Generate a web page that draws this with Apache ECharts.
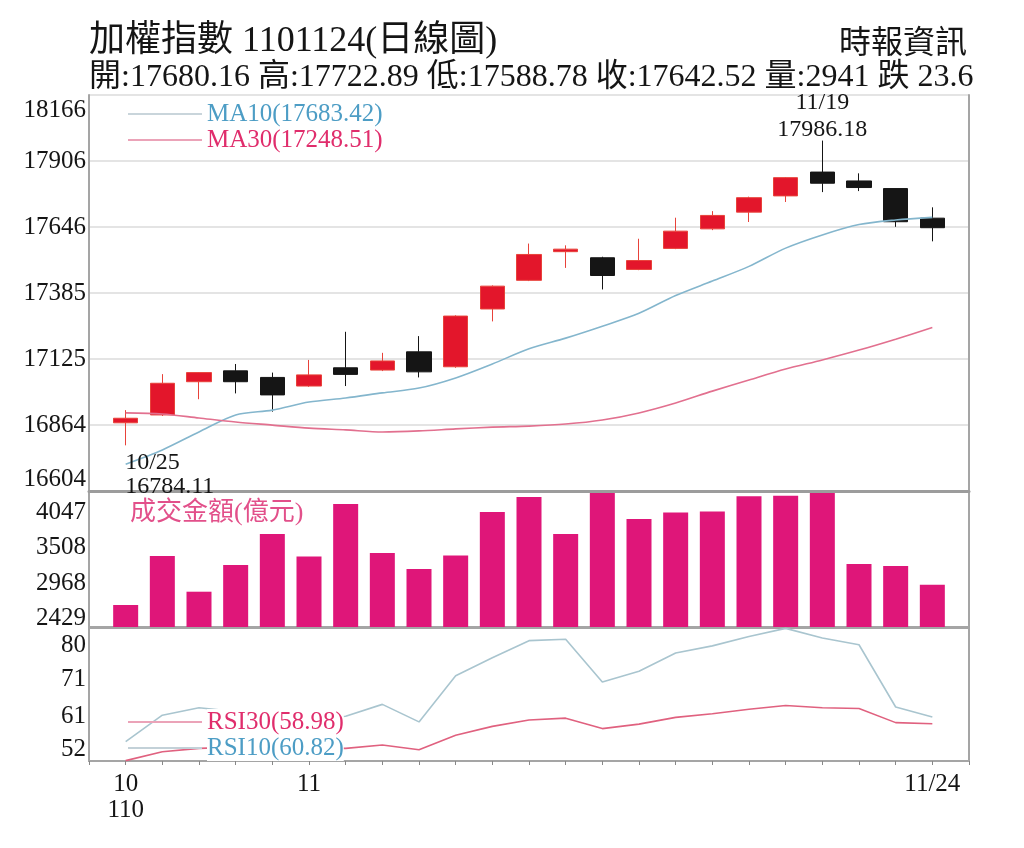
<!DOCTYPE html>
<html>
<head>
<meta charset="utf-8">
<script src="https://cdn.jsdelivr.net/npm/echarts@6/dist/echarts.min.js"></script>
<style>
html,body{margin:0;padding:0;background:#fff;}
#main{width:1024px;height:848px;}
</style>
</head>
<body>
<div id="main"></div>
<script>
// ---- data ----
const dates = ['10/25','10/26','10/27','10/28','10/29','11/1','11/2','11/3','11/4','11/5','11/8','11/9','11/10','11/11','11/12','11/15','11/16','11/17','11/18','11/19','11/22','11/23','11/24'];
const xTickLabels = ['10\n110','','','','','11','','','','','','','','','','','','','','','','','11/24'];
const openP  = [16873,16904,17035,17078,17052,17018,17090,17081,17153,17094,17322,17435,17548,17524,17478,17561,17638,17704,17768,17862,17827,17797,17680.16];
const closeP = [16891,17029,17071,17035,16983,17062,17064,17117,17074,17294,17412,17537,17558,17454,17513,17629,17691,17761,17840,17818,17801,17666.12,17642.52];
const lowP   = [16784.11,16900,16966,16989,16917,17015,17018,17077,17052,17090,17273,17432,17484,17399,17475,17558,17633,17665,17744,17783,17787,17646,17588.78];
const highP  = [16923,17065,17073,17105,17071,17121,17232,17149,17215,17297,17415,17580,17573,17528,17599,17682,17708,17765,17842,17986.18,17857,17797,17722.89];
const ma10 = [16710,16766,16837,16904,16923,16955,16971,16991,17010,17050,17105,17165,17207,17254,17305,17375,17432,17490,17562,17614,17655,17673,17683.42];
const ma30 = [16912,16908,16892,16876,16864,16852,16845,16837,16841,16849,16856,16860,16868,16884,16912,16951,16998,17042,17085,17121,17160,17203,17248.51];
const volume = [2634,3378,2836,3242,3713,3370,4168,3424,3181,3385,4047,4275,3713,4335,3941,4040,4055,4285,4292,4335,3257,3227,2941];
const rsi10 = [54.2,61.3,63.3,62.3,60.7,60.2,61.0,64.2,59.5,71.9,76.7,81.3,81.7,70.2,73.1,78.0,79.9,82.4,84.6,82.0,80.2,63.5,60.82];
const rsi30 = [49.1,51.5,52.4,52.7,52.6,52.6,52.4,53.3,52.0,55.9,58.3,60.0,60.5,57.7,58.9,60.7,61.7,62.9,63.9,63.3,63.1,59.3,58.98];
const priceTicks = [16604,16864,17125,17385,17646,17906,18166];
const volTicks = [2429,2968,3508,4047];
const rsiTicks = [52,61,71,80];

// ---- build ----
const FONT = "'Liberation Serif','Noto Sans CJK TC',serif";
const n = dates.length - 1;
const cats = [''].concat(dates).concat([' ']);
const labelMap = {};
dates.forEach((d, i) => { labelMap[d] = xTickLabels[i]; });
const f2 = v => v.toFixed(2);
const subtitle = '開:' + f2(openP[n]) + ' 高:' + f2(highP[n]) + ' 低:' + f2(lowP[n]) +
  ' 收:' + f2(closeP[n]) + ' 量:' + volume[n] + ' 跌 ' + (closeP[n-1] - closeP[n]).toFixed(1);
const ma10Name = 'MA10(' + f2(ma10[n]) + ')';
const ma30Name = 'MA30(' + f2(ma30[n]) + ')';
const rsi10Name = 'RSI10(' + f2(rsi10[n]) + ')';
const rsi30Name = 'RSI30(' + f2(rsi30[n]) + ')';
let hiIdx = 0, loIdx = 0;
highP.forEach((v, i) => { if (v > highP[hiIdx]) hiIdx = i; });
lowP.forEach((v, i) => { if (v < lowP[loIdx]) loIdx = i; });
const pMin = priceTicks[0], pMax = priceTicks[priceTicks.length - 1];
const nT = priceTicks.length - 1;
const pInt = (pMax - pMin) / nT;

const candleData = dates.map((d, i) => [d, openP[i], closeP[i], lowP[i], highP[i]]);
const pair = arr => dates.map((d, i) => [d, arr[i]]);

const lblBase = { fontFamily: FONT, fontSize: 25, color: '#151515' };
const gridL = 89, gridW = 880;
const option = {
  animation: false,
  backgroundColor: '#fff',
  title: [
    { text: '加權指數 1101124(日線圖)', left: 84, top: 18, textStyle: { fontFamily: FONT, fontSize: 36, fontWeight: 'normal', color: '#151515', lineHeight: 38 } },
    { text: subtitle, left: 84, top: 56, textStyle: { fontFamily: FONT, fontSize: 32, fontWeight: 'normal', color: '#151515', lineHeight: 34 } },
    { text: '時報資訊', right: 52, top: 24, textStyle: { fontFamily: FONT, fontSize: 32, fontWeight: 'normal', color: '#151515' } },
    { text: '成交金額(億元)', left: 125, top: 495, textStyle: { fontFamily: FONT, fontSize: 26, fontWeight: 'normal', color: '#e2508a' } }
  ],
  legend: [
    { left: 128, top: 101, orient: 'vertical', padding: 0, itemGap: 0, itemWidth: 74, itemHeight: 2, icon: 'rect', selectedMode: false,
      textStyle: { fontFamily: FONT, fontSize: 25, lineHeight: 26, backgroundColor: '#fff' },
      data: [ { name: ma10Name, itemStyle: { color: '#c9d5db' }, textStyle: { color: '#4d9dc5' } },
              { name: ma30Name, itemStyle: { color: '#eba3b8' }, textStyle: { color: '#e02d6c' } } ] },
    { left: 128, top: 709, orient: 'vertical', padding: 0, itemGap: 0, itemWidth: 74, itemHeight: 2, icon: 'rect', selectedMode: false,
      textStyle: { fontFamily: FONT, fontSize: 25, lineHeight: 26, backgroundColor: '#fff' },
      data: [ { name: rsi30Name, itemStyle: { color: '#eba3b8' }, textStyle: { color: '#e02d6c' } },
              { name: rsi10Name, itemStyle: { color: '#c3d1d8' }, textStyle: { color: '#4d9dc5' } } ] }
  ],
  grid: [
    { left: gridL, width: gridW, top: 95, height: 396, show: false },
    { left: gridL, width: gridW, top: 492, height: 135, show: true, borderColor: '#a5a5a5', borderWidth: 2, backgroundColor: 'transparent' },
    { left: gridL, width: gridW, top: 628, height: 133, show: true, borderColor: '#a5a5a5', borderWidth: 2, backgroundColor: 'transparent' }
  ],
  xAxis: [
    { type: 'category', gridIndex: 0, data: cats, boundaryGap: false,
      axisLine: { show: true, lineStyle: { color: '#9c9c9c', width: 3 } }, axisTick: { show: false }, axisLabel: { show: false }, splitLine: { show: false } },
    { type: 'category', gridIndex: 1, data: cats, boundaryGap: false,
      axisLine: { show: false }, axisTick: { show: false }, axisLabel: { show: false }, splitLine: { show: false } },
    { type: 'category', gridIndex: 2, data: cats, boundaryGap: false,
      axisLine: { show: true, lineStyle: { color: '#a5a5a5', width: 2 } },
      axisTick: { show: true, interval: 0, length: 4, lineStyle: { color: '#888' } },
      axisLabel: { show: true, interval: 0, margin: 10, fontFamily: FONT, fontSize: 25, lineHeight: 26, color: '#151515',
        formatter: v => labelMap[v] || '' },
      splitLine: { show: false } }
  ],
  yAxis: [
    { type: 'value', gridIndex: 0, min: pMin, max: pMax, interval: pInt,
      axisLine: { show: true, lineStyle: { color: '#a5a5a5', width: 2 } }, axisTick: { show: false },
      axisLabel: Object.assign({}, lblBase, { margin: 3,
        formatter: v => {
          const k = Math.round((v - pMin) / pInt);
          if (k === 0) return '{lo|' + priceTicks[k] + '}';
          if (k === nT) return '{hi|' + priceTicks[k] + '}';
          return String(priceTicks[k]);
        },
        rich: {
          lo: Object.assign({}, lblBase, { padding: [0, 0, 24, 0] }),
          hi: Object.assign({}, lblBase, { padding: [30, 0, 0, 0] })
        } }),
      splitLine: { show: true, lineStyle: { color: '#e4e4e4', width: 2 } } },
    { type: 'value', gridIndex: 0, position: 'right', min: pMin, max: pMax, interval: pInt,
      axisLine: { show: true, lineStyle: { color: '#a5a5a5', width: 2 } }, axisTick: { show: false },
      axisLabel: { show: false }, splitLine: { show: false } },
    { type: 'value', gridIndex: 1, min: 2300, max: 4350,
      axisLine: { show: false }, axisTick: { show: false },
      axisLabel: Object.assign({}, lblBase, { customValues: volTicks, margin: 3, formatter: v => String(v) }),
      splitLine: { show: false } },
    { type: 'value', gridIndex: 2, min: 49, max: 84.7,
      axisLine: { show: false }, axisTick: { show: false },
      axisLabel: Object.assign({}, lblBase, { customValues: rsiTicks, margin: 3, formatter: v => String(v) }),
      splitLine: { show: false } }
  ],
  series: [
    { name: 'K', type: 'candlestick', xAxisIndex: 0, yAxisIndex: 0, barWidth: 25,
      encode: { x: 0, y: [1, 2, 3, 4] }, data: candleData,
      itemStyle: { color: '#e3162b', color0: '#151515', borderColor: '#e8423a', borderColor0: '#151515', borderWidth: 1 },
      markPoint: {
        symbol: 'circle', symbolSize: 1, itemStyle: { color: 'rgba(0,0,0,0)' },
        data: [
          { coord: [dates[hiIdx], highP[hiIdx]],
            label: { show: true, position: 'top', distance: -3, formatter: dates[hiIdx] + '\n' + highP[hiIdx],
              fontFamily: FONT, fontSize: 24, lineHeight: 27, color: '#151515' } },
          { coord: [dates[loIdx], lowP[loIdx]],
            label: { show: true, position: [0, 6], align: 'left', verticalAlign: 'top', formatter: dates[loIdx] + '\n' + lowP[loIdx],
              fontFamily: FONT, fontSize: 24, lineHeight: 24, color: '#151515' } }
        ]
      } },
    { name: ma10Name, type: 'line', xAxisIndex: 0, yAxisIndex: 0, data: pair(ma10), symbol: 'none', smooth: 0.3,
      lineStyle: { color: '#84b6cd', width: 1.6 }, itemStyle: { color: '#84b6cd' } },
    { name: ma30Name, type: 'line', xAxisIndex: 0, yAxisIndex: 0, data: pair(ma30), symbol: 'none', smooth: 0.3,
      lineStyle: { color: '#e2708f', width: 1.6 }, itemStyle: { color: '#e2708f' } },
    { name: '成交金額', type: 'bar', xAxisIndex: 1, yAxisIndex: 2, data: pair(volume), barWidth: 25,
      itemStyle: { color: '#df1679' } },
    { name: rsi10Name, type: 'line', xAxisIndex: 2, yAxisIndex: 3, data: pair(rsi10), symbol: 'none',
      lineStyle: { color: '#a9c5cf', width: 1.6 }, itemStyle: { color: '#a9c5cf' } },
    { name: rsi30Name, type: 'line', xAxisIndex: 2, yAxisIndex: 3, data: pair(rsi30), symbol: 'none',
      lineStyle: { color: '#e0617f', width: 1.6 }, itemStyle: { color: '#e0617f' } }
  ]
};
const chart = echarts.init(document.getElementById('main'), null, { renderer: 'canvas' });
chart.setOption(option);
</script>
</body>
</html>
